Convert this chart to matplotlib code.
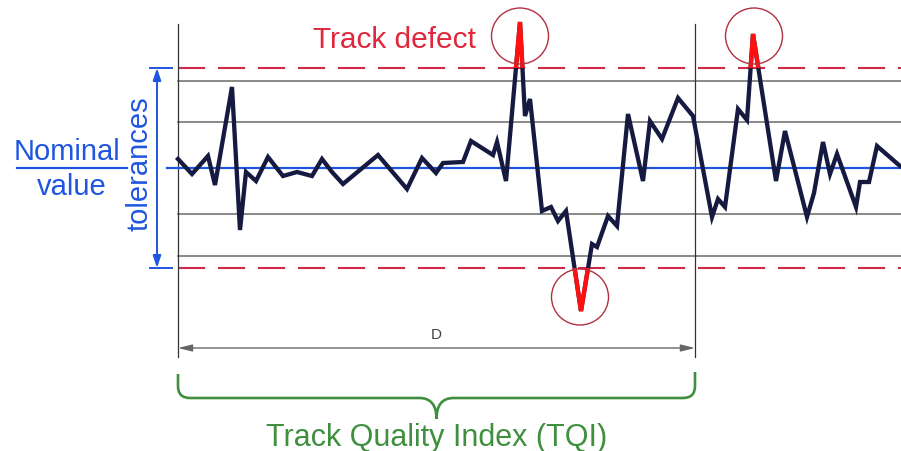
# -*- coding: utf-8 -*-
"""Track geometry signal with tolerance band, track defects and TQI window."""

import numpy as np
from matplotlib import pyplot as plt
from matplotlib.patches import Ellipse, Rectangle, PathPatch
from matplotlib.path import Path

# distance along the track (arbitrary units) and deviation from nominal value
distance = [0, 14, 30, 37, 54, 62, 68, 78, 90, 105,
            119, 134, 144, 154, 165, 200, 229, 244, 258, 265,
            285, 293, 315, 319, 328, 342, 347, 352, 364, 373,
            380, 388, 403, 414, 419, 430, 439, 450, 465, 472,
            484, 500, 515, 534, 540, 547, 560, 569, 575, 598,
            607, 629, 636, 645, 652, 659, 678, 682, 691, 699, 722]
deviation = [0.9, -0.6, 1.2, -1.7, 8.1, -6.2, -0.4, -1.3, 1.1, -0.8,
             -0.4, -0.8, 0.9, -0.4, -1.6, 1.3, -2.1, 1.0, -0.5, 0.5,
             0.6, 2.7, 1.3, 2.6, -1.3, 14.6, 5.2, 6.9, -4.3, -3.9,
             -5.3, -4.3, -14.3, -7.6, -7.9, -4.8, -5.8, 5.4, -1.3, 4.7,
             2.9, 7.0, 5.2, -4.9, -3.1, -3.9, 5.9, 4.8, 13.4, -1.3,
             3.7, -4.9, -2.5, 2.6, -0.6, 1.4, -3.9, -1.4, -1.4, 2.2, 0.2]

tolerance = 10.0
grid_levels = [8.7, 4.6, -4.6, -8.8]
window_length = 517          # D, length of the TQI window
defects = [(342, 13.2), (402, -12.9), (576, 13.2)]   # circled track defects

NAVY = '#161a40'
RED = '#e0283c'
DASH_RED = '#d02848'
BLUE = '#1f55e0'
GREEN = '#3f8f3f'

x_min, x_max = -178, 723
y_min, y_max = -28.3, 16.9

fig = plt.figure(figsize=(9.01, 4.52), dpi=100)
ax = fig.add_axes([0, 0, 1, 1])
ax.set_xlim(x_min, x_max)
ax.set_ylim(y_min, y_max)
ax.axis('off')
plt.rcParams['font.family'] = ['Liberation Sans', 'DejaVu Sans']

# horizontal reference lines
for lvl in grid_levels:
    ax.plot([0, x_max], [lvl, lvl], color='#6a6a6a', lw=1.1, zorder=1)
for lvl in (tolerance, -tolerance):
    ax.plot([0, x_max], [lvl, lvl], color=DASH_RED, lw=1.5, dashes=(13, 6.2), zorder=1)
ax.plot([-11, x_max], [0, 0], color=BLUE, lw=1.6, zorder=3)

# vertical limits of the window
for xv in (0, window_length):
    ax.plot([xv, xv], [14.4, -18.9], color='#333333', lw=0.9, zorder=1)

# signal, and the part outside the tolerances in red
ax.plot(distance, deviation, color=NAVY, lw=3.1, solid_joinstyle='miter', zorder=4)
for y0 in (tolerance, -tolerance - 20):
    clip = Rectangle((x_min, y0), x_max - x_min, 20, transform=ax.transData)
    ln, = ax.plot(distance, deviation, color='#ff1010', lw=3.1,
                  solid_joinstyle='miter', zorder=5)
    ln.set_clip_path(clip)

# circles around defects
for xd, yd in defects:
    ax.add_patch(Ellipse((xd, yd), 57, 5.6, fill=False, ec='#b03040', lw=1.0, zorder=6))
ax.text(216, 12.1, 'Track defect', color=RED, fontsize=21.5, ha='center', va='baseline')

# tolerance arrow and nominal value label
ax.annotate('', xy=(-21, tolerance), xytext=(-21, -tolerance),
            arrowprops=dict(arrowstyle='<|-|>,head_length=0.6,head_width=0.2',
                            color=BLUE, lw=1.4, mutation_scale=12,
                            shrinkA=0, shrinkB=0))
for lvl in (tolerance, -tolerance):
    ax.plot([-28, -6], [lvl, lvl], color=BLUE, lw=1.4)
ax.text(-38, 0.5, 'tolerances', color=BLUE, fontsize=21, rotation=90,
        ha='center', va='center')
ax.text(-111, 0.9, 'Nominal', color=BLUE, fontsize=21, ha='center', va='baseline')
ax.text(-106, -2.6, 'value', color=BLUE, fontsize=21, ha='center', va='baseline')
ax.plot([-161, -51], [0, 0], color=BLUE, lw=1.6)

# window length D
ax.annotate('', xy=(0, -18.0), xytext=(window_length, -18.0),
            arrowprops=dict(arrowstyle='<|-|>,head_length=0.6,head_width=0.15',
                            color='#666666', lw=1.0, mutation_scale=14,
                            shrinkA=0, shrinkB=0))
ax.text(window_length / 2, -16.6, 'D', color='#444444', fontsize=11,
        ha='center', va='center')

# brace under the window
mid = window_length / 2
verts = [(0, -20.6), (0, -21.8), (0, -23.0), (12, -23.0),
         (mid - 17, -23.0), (mid, -23.0), (mid, -25.1),
         (mid, -23.0), (mid + 17, -23.0),
         (window_length - 12, -23.0), (window_length, -23.0), (window_length, -21.8),
         (window_length, -20.4)]
codes = [Path.MOVETO, Path.LINETO, Path.CURVE3, Path.CURVE3,
         Path.LINETO, Path.CURVE3, Path.CURVE3,
         Path.CURVE3, Path.CURVE3,
         Path.LINETO, Path.CURVE3, Path.CURVE3,
         Path.LINETO]
ax.add_patch(PathPatch(Path(verts, codes), fill=False, ec=GREEN, lw=1.9))
ax.text(mid, -27.7, 'Track Quality Index (TQI)', color=GREEN, fontsize=22,
        ha='center', va='baseline')

fig.savefig('out.png', dpi=100, facecolor='white')
